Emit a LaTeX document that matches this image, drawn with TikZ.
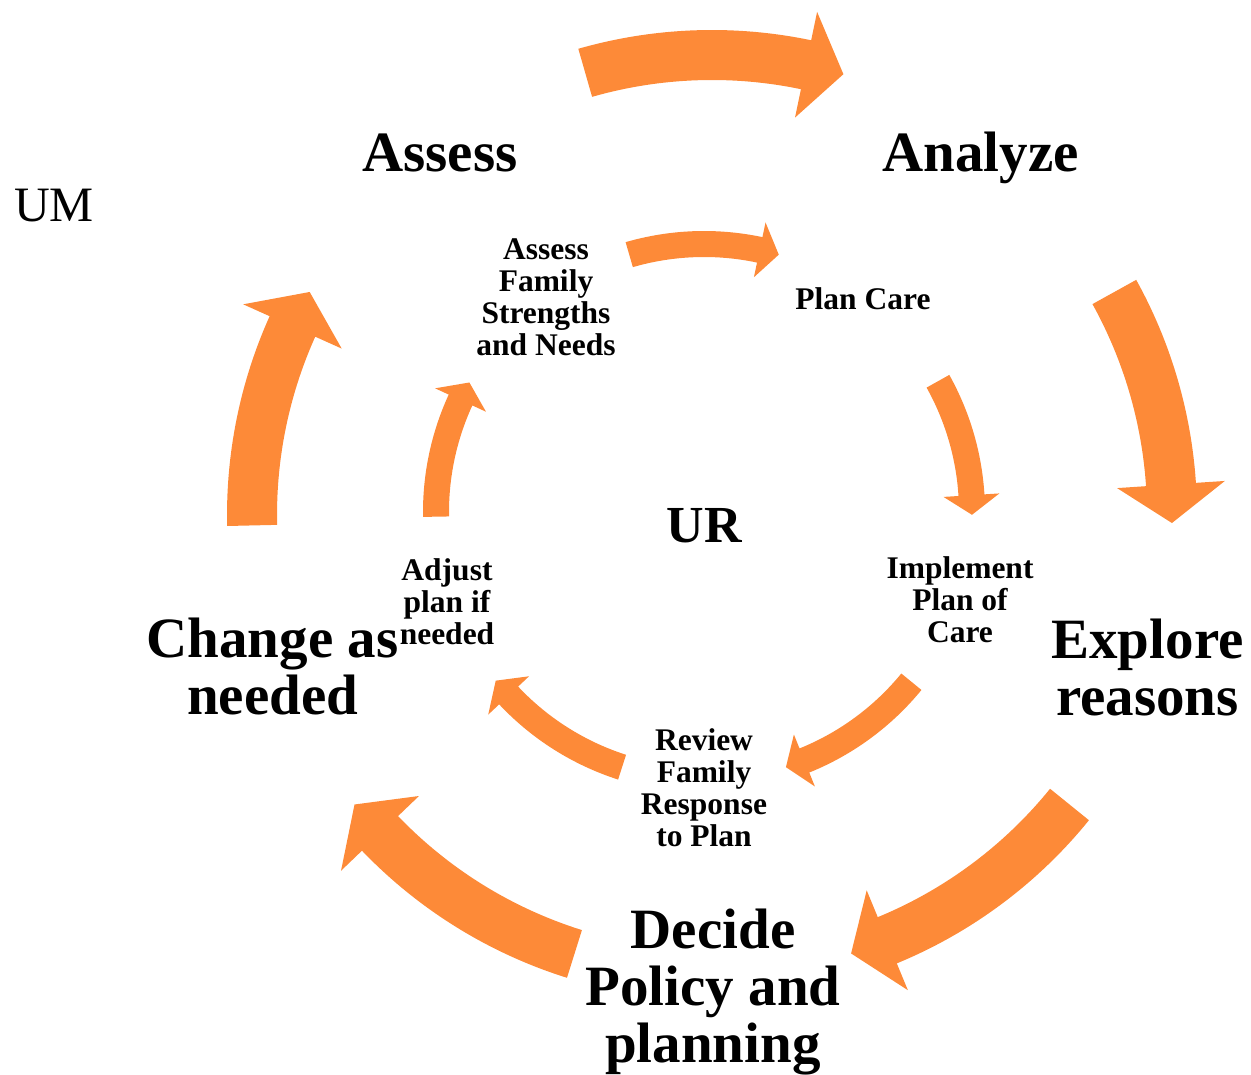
\documentclass[tikz,border=0pt]{standalone}
\usepackage{fontspec}
\setmainfont{Liberation Serif}
\usetikzlibrary{calc}
\definecolor{arroworange}{RGB}{253,138,56}
\tikzset{
  ringfill/.style={fill=arroworange, draw=none},
  biglabel/.style={font=\bfseries\fontsize{57}{57}\selectfont, inner sep=0pt, anchor=base},
  smalllabel/.style={font=\bfseries\fontsize{31.5}{32}\selectfont, inner sep=0pt, anchor=base},
}
% #1 centre coordinate, #2 radius, #3 band width, #4 head half width, #5 tail angle, #6 tip angle, #7 head span (deg)
\newcommand{\ringarrow}[7]{%
  \pgfmathsetmacro\rOutA{#2+#3/2}%
  \pgfmathsetmacro\rInA{#2-#3/2}%
  \pgfmathsetmacro\rHoA{#2+#4}%
  \pgfmathsetmacro\rHiA{#2-#4}%
  \pgfmathsetmacro\tBaseA{#6+#7}%
  \fill[ringfill] ($(#1)+(#5:\rOutA pt)$) arc[start angle=#5, end angle=\tBaseA, radius=\rOutA pt]
    -- ($(#1)+(\tBaseA:\rHoA pt)$) -- ($(#1)+(#6:#2 pt)$) -- ($(#1)+(\tBaseA:\rHiA pt)$)
    -- ($(#1)+(\tBaseA:\rInA pt)$) arc[start angle=\tBaseA, end angle=#5, radius=\rInA pt] -- cycle;
}
\newcommand{\lines}[1]{\begin{tabular}[t]{@{}c@{}}#1\end{tabular}}
\begin{document}
\begin{tikzpicture}[x=1pt,y=1pt]
\useasboundingbox (0,0) rectangle (1251,-1075);
\coordinate (outerc) at (712,-515);
\coordinate (innerc) at (704,-512);
% outer ring
\ringarrow{outerc}{460}{50}{54}{106}{73.4}{4.8}
\ringarrow{outerc}{460}{50}{54}{29}{-1}{4.8}
\ringarrow{outerc}{460}{50}{54}{-39}{-72.4}{4.8}
\ringarrow{outerc}{460}{50}{54}{-107.4}{-141}{4.8}
\ringarrow{outerc}{460}{50}{54}{181.3}{151}{4.8}
% inner ring
\ringarrow{innerc}{268}{26}{28}{106.2}{73.8}{4.2}
\ringarrow{innerc}{268}{26}{28}{29.2}{-0.6}{4.2}
\ringarrow{innerc}{268}{26}{28}{-39.3}{-72.2}{4.2}
\ringarrow{innerc}{268}{26}{28}{-107.8}{-141}{4.2}
\ringarrow{innerc}{268}{26}{28}{181}{151.1}{4.2}
% outer labels
\node[biglabel] (assess) at (440,-172) {Assess};
\node[biglabel] (analyze) at (980.5,-172) {Analyze};
\node[biglabel] (explore) at (1147.5,-658) {\lines{Explore\\reasons}};
\node[biglabel] (decide) at (713,-948) {\lines{Decide\\Policy and\\planning}};
\node[biglabel] (change) at (272.5,-657) {\lines{Change as\\needed}};
\node[font=\fontsize{49.5}{50}\selectfont, inner sep=0pt, anchor=base west] (um) at (14,-222) {UM};
\node[font=\bfseries\fontsize{52}{52}\selectfont, inner sep=0pt, anchor=base] (ur) at (704.5,-542) {UR};
% inner labels
\node[smalllabel] (afsn) at (546,-260) {\lines{Assess\\Family\\Strengths\\and Needs}};
\node[smalllabel] (plancare) at (863,-310) {Plan Care};
\node[smalllabel] (implement) at (960,-578) {\lines{Implement\\Plan of\\Care}};
\node[smalllabel] (review) at (704,-750) {\lines{Review\\Family\\Response\\to Plan}};
\node[smalllabel] (adjust) at (447,-580) {\lines{Adjust\\plan if\\needed}};
\end{tikzpicture}
\end{document}
